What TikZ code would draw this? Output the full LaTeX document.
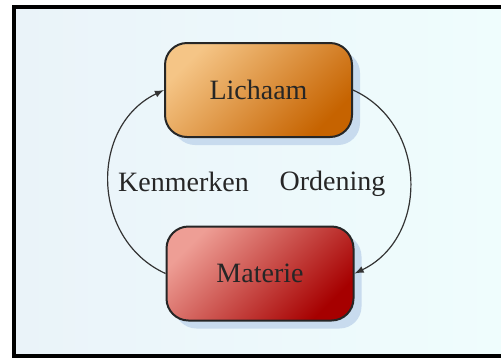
\documentclass[tikz,border=0pt]{standalone}
\usepackage{fontspec}
\setmainfont{Liberation Serif}
\usetikzlibrary{shadows}
\definecolor{bgleft}{HTML}{EAF3F9}
\definecolor{bgright}{HTML}{EFFDFD}
\definecolor{shadowblue}{HTML}{C8DBEE}
\definecolor{orangelight}{HTML}{F5C586}
\definecolor{orangemid}{HTML}{CD6C0C}
\definecolor{orangedark}{HTML}{C66300}
\definecolor{redlight}{HTML}{EE9E95}
\definecolor{redmid}{HTML}{B21A18}
\definecolor{reddark}{HTML}{A60000}
\begin{document}
\begin{tikzpicture}[x=0.5pt,y=-0.5pt]
\tikzstyle{every node}+=[font=\fontsize{14}{16}\selectfont, text=black!85]
\tikzstyle{topic}=[draw=black!85, line width=1pt, rounded corners=11pt, minimum width=93.5pt, minimum height=47pt, drop shadow={shadow xshift=4pt, shadow yshift=-4pt, fill=shadowblue, opacity=1}]
\tikzstyle{link}=[draw=black!80, line width=0.6pt, -latex, looseness=1.15]
\tikzstyle{linklabel}=[inner sep=0pt, text height=1.6ex, text depth=0.4ex, yshift=-2pt]
\useasboundingbox (0,0) rectangle (501,360);
\shade [left color=bgleft, right color=bgright] (14,7) rectangle (501,356);
\draw [line width=2pt] (501,7) -- (14,7) -- (14,356) -- (501,356);
\node [topic, top color=orangelight, middle color=orangemid, bottom color=orangedark, shading angle=45] (lichaam) at (258.5,90) {Lichaam};
\node [topic, top color=redlight, middle color=redmid, bottom color=reddark, shading angle=45] (materie) at (260,273.5) {Materie};
\draw [link] (materie.west) to [bend left=65] node [linklabel, right=4.5pt] {Kenmerken} (lichaam.west);
\draw [link] (lichaam.east) to [bend left=65] node [linklabel, left=12pt] {Ordening} (materie.east);
\end{tikzpicture}
\end{document}
